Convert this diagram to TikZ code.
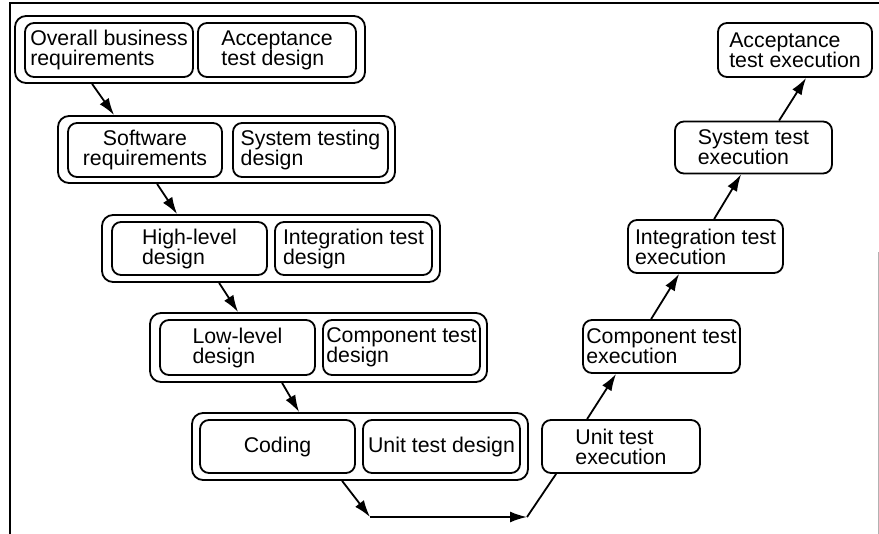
\documentclass[tikz,border=0pt]{standalone}
\usepackage{fontspec}
\setmainfont{Liberation Sans}
\usetikzlibrary{arrows.meta}
\begin{document}
\begin{tikzpicture}[x=1pt,y=-1pt,
  inbox/.style={draw, line width=1.8pt, rounded corners=9pt, inner sep=0pt,
    align=left, font=\fontsize{21.3}{20}\selectfont, minimum height=54pt},
  grp/.style={draw, line width=1.8pt, rounded corners=11pt, inner sep=0pt, minimum height=67pt},
  arr/.style={line width=1.8pt, -{Latex[length=17pt,width=11pt]}},
  lin/.style={line width=1.8pt}]
\useasboundingbox (0,0) rectangle (879,534);
% frame
\draw[line width=2.4pt] (10,534) -- (10,3) -- (879,3);
\draw[gray!60, line width=1pt] (878,252) -- (878,534);

% group 1
\node[grp, minimum width=350pt] (G1) at (190,49.5) {};
\node[inbox, minimum width=168pt] (A1) at (109,50) {Overall business\\requirements};
\node[inbox, minimum width=158pt] (B1) at (277,50) {Acceptance\\test design};
% group 2
\node[grp, minimum width=337pt] (G2) at (226.5,149.5) {};
\node[inbox, minimum width=154pt, align=center] (A2) at (145,150) {Software\\requirements};
\node[inbox, minimum width=155pt] (B2) at (310.5,150) {System testing\\design};
% group 3
\node[grp, minimum width=338pt] (G3) at (271,248.5) {};
\node[inbox, minimum width=155pt, minimum height=53pt] (A3) at (189.5,248.5) {High-level\\design};
\node[inbox, minimum width=157pt, minimum height=53pt] (B3) at (353.5,248.5) {Integration test\\design};
% group 4
\node[grp, minimum width=337pt, minimum height=69pt] (G4) at (318.5,347.5) {};
\node[inbox, minimum width=155pt, minimum height=55pt] (A4) at (237.5,347.5) {Low-level\\design};
\node[inbox, minimum width=157pt, minimum height=55pt] (B4) at (401.5,347.5) {Component test\\design};
% group 5
\node[grp, minimum width=336pt] (G5) at (360,446.5) {};
\node[inbox, minimum width=155pt, minimum height=53pt] (A5) at (277.5,446.5) {Coding};
\node[inbox, minimum width=157pt, minimum height=53pt] (B5) at (441.5,446.5) {Unit test design};

% right column
\node[inbox, minimum width=158pt, minimum height=53pt] (U) at (621,446.5) {Unit test\\execution};
\node[inbox, minimum width=157pt, minimum height=53pt] (C) at (661.5,346.5) {Component test\\execution};
\node[inbox, minimum width=155pt, minimum height=53pt] (I) at (705.5,246.5) {Integration test\\execution};
\node[inbox, minimum width=157pt, minimum height=52pt] (S) at (753.5,147.5) {System test\\execution};
\node[inbox, minimum width=154pt] (AE) at (795,50) {Acceptance\\test execution};

% left descending arrows
\draw[arr] ([xshift=78pt]G1.south west) -- ([xshift=57pt]G2.north west);
\draw[arr] ([xshift=100pt]G2.south west) -- ([xshift=76pt]G3.north west);
\draw[arr] ([xshift=118pt]G3.south west) -- ([xshift=89pt]G4.north west);
\draw[arr] ([xshift=133pt]G4.south west) -- ([xshift=108pt]G5.north west);

% bottom path
\coordinate (m1) at (370,517);
\coordinate (m2) at (527,517);
\draw[arr] ([xshift=151pt]G5.south west) -- (m1);
\draw[arr] (m1) -- (m2);
\draw[lin] (m2) -- ([xshift=15pt]U.south west);

% right ascending arrows
\draw[arr] ([xshift=46pt]U.north west) -- ([xshift=34pt]C.south west);
\draw[arr] ([xshift=69pt]C.north west) -- ([xshift=52pt]I.south west);
\draw[arr] ([xshift=87pt]I.north west) -- ([xshift=67pt]S.south west);
\draw[arr] ([xshift=105pt]S.north west) -- ([xshift=89pt]AE.south west);
\end{tikzpicture}
\end{document}
